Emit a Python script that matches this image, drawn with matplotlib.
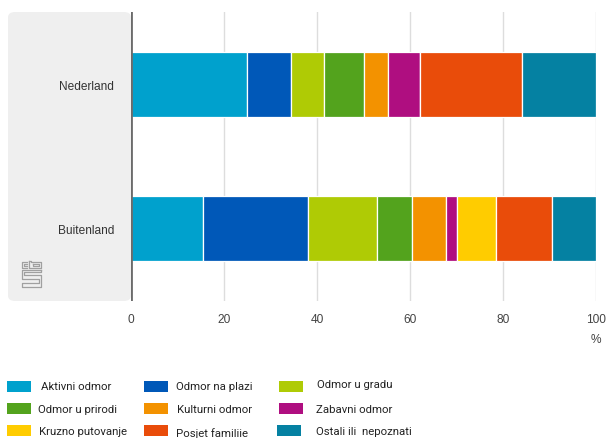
import matplotlib
matplotlib.use("Agg")
import matplotlib.pyplot as plt
from matplotlib.patches import Rectangle, FancyBboxPatch
from matplotlib.lines import Line2D

# ---- data ----
categories = ["Buitenland", "Nederland"]
series_names = ["Aktivni odmor", "Odmor na plazi", "Odmor u gradu",
                "Odmor u prirodi", "Kulturni odmor", "Zabavni odmor",
                "Kruzno putovanje", "Posjet familiie", "Ostali ili  nepoznati"]
nederland = [25.0, 9.4, 7.0, 8.8, 5.1, 6.9, 0.0, 21.8, 16.0]
buitenland = [15.4, 22.6, 14.8, 7.7, 7.3, 2.3, 8.5, 12.0, 9.4]
xticks = [0, 20, 40, 60, 80, 100]
colors = ["#00a1cd", "#0058b8", "#afcb05", "#53a31d", "#f39200",
          "#af0e80", "#ffcc00", "#e94c0a", "#0581a2"]

W, H = 608, 439
fig = plt.figure(figsize=(W / 100, H / 100), dpi=100)

def fx(x):
    return x / W

def fy(y):
    return 1 - y / H

# grey panel behind category labels
panel = FancyBboxPatch((fx(8), fy(302)), fx(131) - fx(8), fy(13) - fy(302),
                       boxstyle="round,pad=0,rounding_size=0.012",
                       transform=fig.transFigure, facecolor="#efefef",
                       edgecolor="none", zorder=-5)
fig.patches.append(panel)

ax = fig.add_axes([fx(131), fy(302), fx(596) - fx(131), fy(13) - fy(302)])
ax.set_facecolor("none")
ax.set_zorder(2)

vals = {"Buitenland": buitenland, "Nederland": nederland}
ypos = list(range(len(categories)))
for i, name in enumerate(series_names):
    left = []
    widths = []
    for c in categories:
        v = vals[c]
        left.append(sum(v[:i]))
        widths.append(v[i])
    ax.barh(ypos, widths, left=left, height=0.45, color=colors[i],
            edgecolor="white", linewidth=0.9, zorder=3)

ax.set_xlim(0, 100)
ax.set_ylim(-0.5, 1.5)
ax.set_yticks(ypos)
ax.set_yticklabels(categories, fontsize=8.6, color="#333333",
                   family="Liberation Sans")
ax.set_xticks(xticks)
ax.set_xticklabels([str(t) for t in xticks], fontsize=8.6, color="#444444",
                   family="Liberation Sans")
ax.tick_params(axis="both", length=0)
ax.tick_params(axis="x", pad=9)
ax.tick_params(axis="y", pad=12)
for s in ax.spines.values():
    s.set_visible(False)
ax.grid(axis="x", color="#dddddd", linewidth=1, zorder=1)
ax.axvline(0, color="#6b6b6b", linewidth=2, zorder=4)

fig.text(fx(596), fy(340), "%", ha="center", va="center", fontsize=8.6,
         color="#444444", family="Liberation Sans")

# cbs logo (simple outline)
lc = "#a0a0a0"
lw = 0.9
logo_lines = [
    # c
    [(27, 263), (21.5, 263), (21.5, 269), (27, 269)],
    [(27, 265), (23.5, 265), (23.5, 267), (27, 267)],
    # b
    [(29, 262), (29, 269), (41, 269), (41, 263), (31, 263), (31, 262), (29, 262)],
    [(33, 265), (39, 265), (39, 267), (33, 267), (33, 265)],
    # S
    [(41, 271), (21.5, 271), (21.5, 280), (39, 280), (39, 284), (21.5, 284),
     (21.5, 288), (41, 288), (41, 276), (23.5, 276), (23.5, 273), (41, 273), (41, 271)],
]
for pts in logo_lines:
    xs = [fx(p[0]) for p in pts]
    ys = [fy(p[1]) for p in pts]
    fig.add_artist(Line2D(xs, ys, transform=fig.transFigure, color=lc,
                          linewidth=lw))

# legend
patch_x = [7, 144, 279]
text_x = [[41, 38, 39], [176, 177, 176], [317, 316, 316]]
row_y = [387, 409, 431]
text_y = [[387, 410, 432], [387, 410, 434], [385, 410, 432]]
for i, name in enumerate(series_names):
    r = i // 3
    c = i % 3
    px = patch_x[c] if not (c == 2 and r == 2) else 277
    fig.patches.append(Rectangle((fx(px), fy(row_y[r] + 5.5)), fx(24), 11 / H,
                                 transform=fig.transFigure,
                                 facecolor=colors[i], edgecolor="none"))
    fig.text(fx(text_x[c][r]), fy(text_y[c][r]), name, ha="left", va="center",
             fontsize=8.2, color="#222222", family="Roboto")

fig.savefig("out.png", dpi=100)
